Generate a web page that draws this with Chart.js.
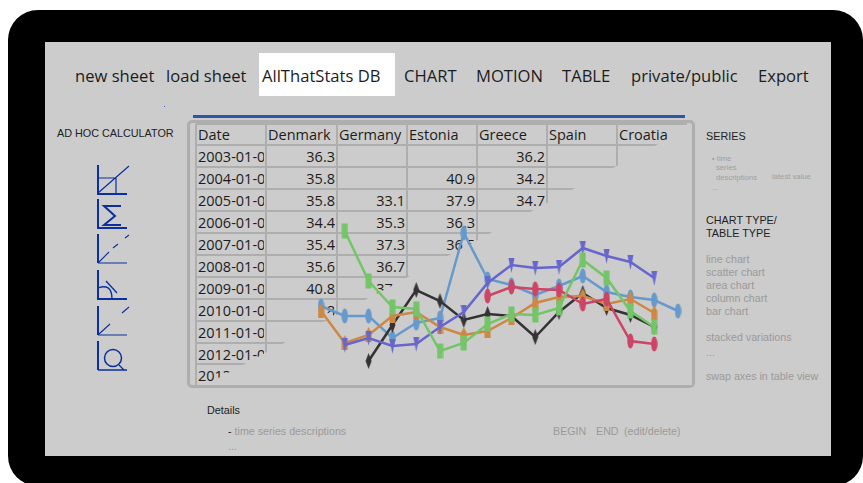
<!DOCTYPE html>
<html>
<head>
<meta charset="utf-8">
<title>AllThatStats sheet</title>
<script src="https://cdn.jsdelivr.net/npm/chart.js@4"></script>
<style>
html, body { margin: 0; padding: 0; background: #fff; overflow: hidden; }
#page { position: relative; width: 863px; height: 483px; overflow: hidden; font-family: "Liberation Sans", sans-serif; }
#bezel { position: absolute; left: 8px; top: 10px; width: 855px; height: 476px; background: #000; border-radius: 30px; }
#panel { position: absolute; left: 45px; top: 42px; width: 786px; height: 414px; background: #ccc; }
.abs { position: absolute; white-space: nowrap; line-height: 1; }
.menu { font-family: "Open Sans", sans-serif; font-size: 16.6px; color: #1c1c1c; top: 68px; }
#activeTab { position: absolute; left: 259px; top: 53px; width: 136px; height: 43px; background: #fff; }
#rule { position: absolute; left: 193px; top: 115px; width: 492px; height: 3px; background: #2f56a6; }
#frame { position: absolute; left: 187px; top: 120px; width: 502px; height: 262px; border: 3px solid #aeaeae; border-radius: 5px; }
#fade { position: absolute; left: 190px; top: 123px; width: 502px; height: 262px; background: #ccc;
  clip-path: polygon(502px 3px, 502px 262px, 15px 262px); }
#patch { position: absolute; left: 303px; top: 302px; width: 30px; height: 17px; background: #ccc;
  clip-path: polygon(0 0, 17px 0, 17px 11px, 30px 11px, 30px 17px, 0 17px); }
.line { position: absolute; background: #aeaeae; }
.cell { position: absolute; font-family: "Open Sans", sans-serif; font-size: 14.5px; color: #1c1c1c; line-height: 20px; white-space: nowrap; overflow: hidden; height: 20px; }
.head { font-size: 10.8px; color: #222; }
.dim { font-size: 10.7px; color: #9a9a9a; }
.tiny { font-size: 7.7px; color: #9f9f9f; }
#icons { position: absolute; left: 0; top: 0; }
#chart { position: absolute; left: 0; top: 0; }
</style>
</head>
<body>
<div id="page">
  <div id="bezel"></div>
  <div id="panel"></div>
  <div id="activeTab"></div>
  <div class="abs menu" style="left:75px">new sheet</div>
  <div class="abs menu" style="left:166px">load sheet</div>
  <div class="abs menu" style="left:262px">AllThatStats DB</div>
  <div class="abs menu" style="left:404px">CHART</div>
  <div class="abs menu" style="left:476px">MOTION</div>
  <div class="abs menu" style="left:562px">TABLE</div>
  <div class="abs menu" style="left:631px">private/public</div>
  <div class="abs menu" style="left:758px">Export</div>
  <div class="abs" style="left:164px;top:106px;width:1px;height:1px;background:#3a5fd0"></div>
  <div id="rule"></div>

  <div class="abs head" style="left:57px;top:128px">AD HOC CALCULATOR</div>
  <svg id="icons" width="863" height="483" fill="none" stroke="#0b2fa0">
    <g stroke-width="2">
      <path d="M98 165V194H127"/><path d="M98 199V228H127"/><path d="M98 234V263"/>
      <path d="M98 270V299H127"/><path d="M98 306V335"/><path d="M98 341V370"/>
    </g>
    <path d="M98 193L129 166M98 178H116V193" stroke-width="1.2"/>
    <path d="M121 206H104L115 216L104 225H121" stroke-width="2"/>
    <path d="M98 263H127M99 262L109 252M113 248L118 244M125 238L129 235" stroke-width="1.1"/>
    <path d="M98 288C106 285 112 287 112 299M106 281L117 293" stroke-width="1.3"/>
    <path d="M98 335H127M99 334L110 324M122 313L129 307" stroke-width="1.1"/>
    <circle cx="113" cy="358" r="8.5" stroke-width="1.5"/><path d="M119 365L124 370M98 370H127" stroke-width="1.3"/>
  </svg>

  <div id="frame"></div>
  <div id="table"></div>
  <div id="fade"></div>
  <div id="patch"></div>

  <div class="abs head" style="left:706px;top:131px">SERIES</div>
  <div class="abs tiny" style="left:712px;top:155px">▪ time</div>
  <div class="abs tiny" style="left:716px;top:164px">series</div>
  <div class="abs tiny" style="left:716px;top:174px">descriptions</div>
  <div class="abs tiny" style="left:772px;top:173px">latest value</div>
  <div class="abs tiny" style="left:712px;top:184px">...</div>
  <div class="abs head" style="left:706px;top:215px">CHART TYPE/</div>
  <div class="abs head" style="left:706px;top:228px">TABLE TYPE</div>
  <div class="abs dim" style="left:706px;top:254px">line chart</div>
  <div class="abs dim" style="left:706px;top:267px">scatter chart</div>
  <div class="abs dim" style="left:706px;top:280px">area chart</div>
  <div class="abs dim" style="left:706px;top:293px">column chart</div>
  <div class="abs dim" style="left:706px;top:306px">bar chart</div>
  <div class="abs dim" style="left:706px;top:332px">stacked variations</div>
  <div class="abs dim" style="left:706px;top:347px">...</div>
  <div class="abs dim" style="left:706px;top:371px">swap axes in table view</div>

  <div class="abs head" style="left:207px;top:405px">Details</div>
  <div class="abs dim" style="left:228px;top:426px"><span style="color:#222">-</span> time series descriptions</div>
  <div class="abs dim" style="left:228px;top:441px">...</div>
  <div class="abs dim" style="left:553px;top:426px">BEGIN</div>
  <div class="abs dim" style="left:596px;top:426px">END</div>
  <div class="abs dim" style="left:624px;top:426px">(edit/delete)</div>

  <canvas id="chart" width="863" height="483"></canvas>
</div>

<script>
// Table contents
const tableHeaders = ['Date', 'Denmark', 'Germany (', 'Estonia', 'Greece', 'Spain', 'Croatia'];
const tableDates = ['2003-01-0', '2004-01-0', '2005-01-0', '2006-01-0', '2007-01-0', '2008-01-0',
  '2009-01-0', '2010-01-0', '2011-01-0', '2012-01-0', '2013-01-0'];
const tableDenmark = [36.3, 35.8, 35.8, 34.4, 35.4, 35.6, 40.8, 38.8];
const tableGermany = [null, null, 33.1, 35.3, 37.3, 36.7, 37.5];
const tableEstonia = [null, 40.9, 37.9, 36.3, 36.5];
const tableGreece = [36.2, 34.2, 34.7];

// Chart series, one slot per year
const years = ['2002', '2003', '2004', '2005', '2006', '2007', '2008', '2009',
  '2010', '2011', '2012', '2013', '2014', '2015', '2016', '2017'];
const seriesBlue = [38.4, 37.4, 37.4, 35.2, 36.7, 37.2, 45.7, 41.1, 40.5, 39.5, 40.4, 41.4, 39.8, 39.3, 39.0, 37.9];
const seriesOrange = [37.9, 34.7, 35.5, 37.4, 37.8, 36.3, 35.5, 35.9, 37.2, 38.7, 39.3, 39.4, 38.6, 39.1, 37.7, null];
const seriesBlack = [null, null, 32.9, 36.5, 40.0, 38.9, 37.0, 37.6, 37.4, 35.3, 37.8, 39.7, 38.2, 37.5, 36.3, null];
const seriesPurple = [null, 34.5, 35.2, 34.4, 34.6, 36.3, 37.8, 40.7, 42.5, 42.2, 42.3, 44.2, 43.4, 42.8, 41.2, null];
const seriesCrimson = [null, null, null, null, null, null, null, 39.4, 40.3, 40.1, 40.0, 38.6, 39.1, 34.9, 34.6, null];
const seriesGreen = [null, 45.9, 40.9, 38.3, 38.1, 33.9, 34.7, 36.6, 37.6, 37.5, 38.2, 43.0, 41.2, 37.9, 36.3, null];

// Tall squashed markers, the picture was stretched vertically
function marker(color, shape) {
    const w = 7, h = 16;
    const c = document.createElement('canvas');
    c.width = w;
    c.height = h;
    const g = c.getContext('2d');
    g.fillStyle = color;
    g.beginPath();
    if (shape === 'rect') {
        g.rect(0.5, 0.5, 6, 15);
    } else if (shape === 'oval') {
        g.ellipse(3.5, 8, 3.2, 7.5, 0, 0, Math.PI * 2);
    } else if (shape === 'diamond') {
        g.moveTo(3.5, 0); g.lineTo(6.5, 8); g.lineTo(3.5, 16); g.lineTo(0.5, 8);
    } else if (shape === 'down') {
        g.moveTo(0.5, 1); g.lineTo(6.5, 1); g.lineTo(3.5, 16);
    } else {
        // orange one has a point on top and a flat foot
        g.moveTo(3.5, 0); g.lineTo(6.5, 6); g.lineTo(6.5, 15); g.lineTo(0.5, 15); g.lineTo(0.5, 6);
    }
    g.closePath();
    g.fill();
    return c;
}

function makeDataset(label, values, color, shape, order) {
    return {
        label: label,
        data: values,
        borderColor: color,
        backgroundColor: color,
        borderWidth: 2.5,
        tension: 0,
        pointStyle: marker(color, shape),
        order: order,
        clip: false
    };
}

function buildTable() {
    const table = document.getElementById('table');
    const colX = [196, 266, 337, 407, 477, 547, 617, 687];
    const rowY = [124, 145, 167, 189, 211, 233, 255, 277, 299, 321, 343, 364, 382];
    const addLine = (x, y, w, h) => {
        const d = document.createElement('div');
        d.className = 'line';
        d.style.cssText = `left:${x}px;top:${y}px;width:${w}px;height:${h}px`;
        table.appendChild(d);
    };
    rowY.slice(0, -1).forEach(y => addLine(196, y - 1, 491, 2));
    colX.slice(0, -1).forEach(x => addLine(x - 1, 124, 2, 262));

    const addCell = (text, col, row, right) => {
        const d = document.createElement('div');
        d.className = 'cell';
        d.textContent = text;
        const left = colX[col] + 2, width = colX[col + 1] - colX[col] - 4;
        const top = rowY[row] + (row === 0 ? 1 : 2);
        d.style.cssText = `left:${left}px;top:${top}px;width:${width}px;` +
            (right ? 'text-align:right;' : '');
        table.appendChild(d);
    };
    tableHeaders.forEach((h, i) => addCell(h, i, 0, false));
    tableDates.forEach((d, i) => addCell(d, 0, i + 1, false));
    [tableDenmark, tableGermany, tableEstonia, tableGreece].forEach((col, c) => {
        col.forEach((v, i) => {
            if (v !== null) addCell(v.toFixed(1), c + 1, i + 1, true);
        });
    });
}

buildTable();

// Canvas covers the whole page, padding puts the plot over the table
new Chart(document.getElementById('chart').getContext('2d'), {
    type: 'line',
    data: {
        labels: years,
        datasets: [
            makeDataset('Blue', seriesBlue, '#6699cc', 'oval', 6),
            makeDataset('Black', seriesBlack, '#333333', 'diamond', 5),
            makeDataset('Orange', seriesOrange, '#cc8844', 'up', 4),
            makeDataset('Purple', seriesPurple, '#6666cc', 'down', 3),
            makeDataset('Crimson', seriesCrimson, '#cc4466', 'oval', 2),
            makeDataset('Green', seriesGreen, '#73c568', 'rect', 1)
        ]
    },
    options: {
        responsive: false,
        animation: false,
        layout: { padding: { left: 321, right: 185, top: 210, bottom: 93 } },
        scales: {
            x: { display: false, offset: false },
            y: { display: false, min: 30, max: 48 }
        },
        plugins: {
            legend: { display: false },
            title: { display: false },
            tooltip: { enabled: false }
        }
    }
});
</script>
</body>
</html>
